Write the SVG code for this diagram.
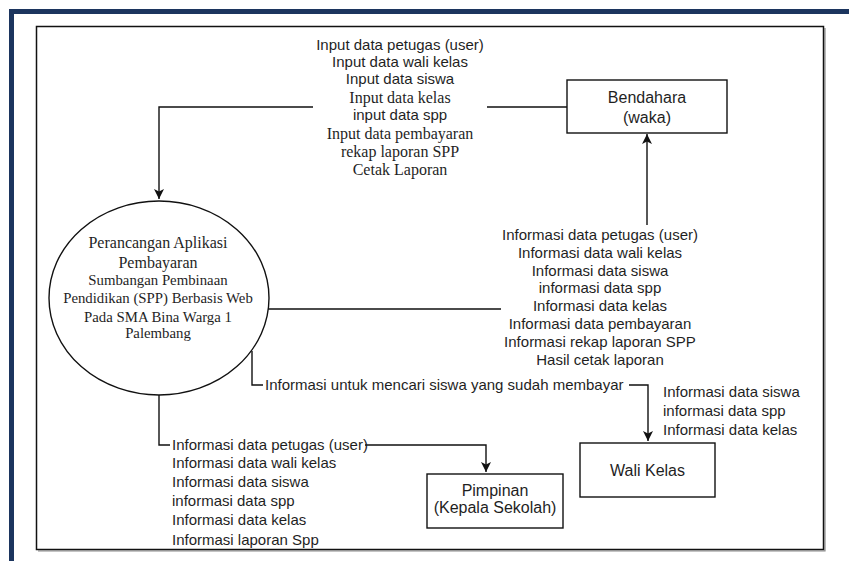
<svg xmlns="http://www.w3.org/2000/svg" width="849" height="561" viewBox="0 0 849 561">
<defs>
<marker id="arr" viewBox="0 0 10 10" refX="10" refY="5" markerWidth="10" markerHeight="10" markerUnits="userSpaceOnUse" orient="auto">
<path d="M0,0 L10,5 L0,10 L2.5,5 z" fill="#111"/>
</marker>
<style>
.sans{font-family:"Liberation Sans",Arial,sans-serif;font-size:15px;fill:#1f1f1f}
.serif{font-family:"Liberation Serif","Times New Roman",serif;font-size:16px;fill:#1f1f1f}
.es{font-family:"Liberation Serif","Times New Roman",serif;font-size:14.8px;fill:#1f1f1f}
.box{font-family:"Liberation Sans",Arial,sans-serif;font-size:16px;fill:#1f1f1f}
.c{text-anchor:middle}
.node{fill:#fff;stroke:#111;stroke-width:1.4}
.edge{fill:none;stroke:#111;stroke-width:1.4}
.bg{fill:#fff}
</style>
</defs>
<rect width="849" height="561" fill="#fff"/>
<path d="M11.5,561 V11.5 H849" fill="none" stroke="#1c355e" stroke-width="5"/>
<path d="M825,28 V551 H38" fill="none" stroke="#8a8a8a" stroke-width="1.2"/>
<rect x="36.5" y="26.5" width="787" height="523" fill="none" stroke="#111" stroke-width="1.5"/>

<g id="connectors">
<path class="edge" d="M567,107 H159 V199" marker-end="url(#arr)"/>
<path class="edge" d="M268,309 H647 V134" marker-end="url(#arr)"/>
<path class="edge" d="M252,351 V385 H648 V441" marker-end="url(#arr)"/>
<path class="edge" d="M159,395 V445 H486 V472" marker-end="url(#arr)"/>

<rect class="bg" x="313" y="36" width="174" height="143"/>
<text class="sans c" x="400" y="50">Input data petugas (user)</text>
<text class="sans c" x="400" y="67">Input data wali kelas</text>
<text class="sans c" x="400" y="84">Input data siswa</text>
<text class="serif c" x="400" y="102.5">Input data kelas</text>
<text class="sans c" x="400" y="120">input data spp</text>
<text class="serif c" x="400" y="138.5">Input data pembayaran</text>
<text class="serif c" x="400" y="157">rekap laporan SPP</text>
<text class="serif c" x="400" y="175">Cetak Laporan</text>

<rect class="bg" x="501" y="225" width="199" height="144"/>
<text class="sans c" x="600" y="240">Informasi data petugas (user)</text>
<text class="sans c" x="600" y="258">Informasi data wali kelas</text>
<text class="sans c" x="600" y="276">Informasi data siswa</text>
<text class="sans c" x="600" y="293">informasi data spp</text>
<text class="sans c" x="600" y="311">Informasi data kelas</text>
<text class="sans c" x="600" y="329">Informasi data pembayaran</text>
<text class="sans c" x="600" y="347">Informasi rekap laporan SPP</text>
<text class="sans c" x="600" y="365">Hasil cetak laporan</text>

<rect class="bg" x="263" y="376" width="366" height="18"/>
<text class="sans" x="265" y="390">Informasi untuk mencari siswa yang sudah membayar</text>

<text class="sans" x="663" y="397">Informasi data siswa</text>
<text class="sans" x="663" y="416">informasi data spp</text>
<text class="sans" x="663" y="435">Informasi data kelas</text>

<rect class="bg" x="170" y="436" width="195" height="18"/>
<text class="sans" x="172" y="450">Informasi data petugas (user)</text>
<text class="sans" x="172" y="468">Informasi data wali kelas</text>
<text class="sans" x="172" y="487">Informasi data siswa</text>
<text class="sans" x="172" y="506">informasi data spp</text>
<text class="sans" x="172" y="525">Informasi data kelas</text>
<text class="sans" x="172" y="545">Informasi laporan Spp</text>
</g>

<g id="process">
<ellipse class="node" cx="159" cy="298" rx="110" ry="97"/>
<text class="serif c" x="158" y="247.5">Perancangan Aplikasi</text>
<text class="serif c" x="158" y="267.5">Pembayaran</text>
<text class="es c" x="158" y="285">Sumbangan Pembinaan</text>
<text class="es c" x="158" y="303">Pendidikan (SPP) Berbasis Web</text>
<text class="es c" x="158" y="322">Pada SMA Bina Warga 1</text>
<text class="es c" x="158" y="338">Palembang</text>
</g>

<g id="bendahara">
<rect class="node" x="567" y="80" width="160" height="53"/>
<text class="box c" x="647" y="102.5">Bendahara</text>
<text class="box c" x="647" y="122.5">(waka)</text>
</g>

<g id="wali-kelas">
<rect class="node" x="580" y="443" width="135" height="54"/>
<text class="box c" x="647.5" y="475.5">Wali Kelas</text>
</g>

<g id="pimpinan">
<rect class="node" x="427" y="474" width="136" height="54"/>
<text class="box c" x="495" y="495.5">Pimpinan</text>
<text class="box c" x="495" y="513">(Kepala Sekolah)</text>
</g>
</svg>
